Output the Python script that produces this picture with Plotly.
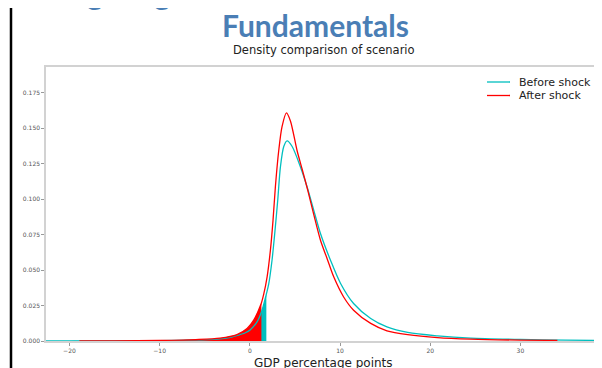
import numpy as np
import plotly.graph_objects as go

# ---- data ----
before_x = [-25, -20, -15, -10, -6, -4, -3.3, -2.0, -1.4, -0.5, 0.06, 0.8, 1.35, 1.83, 2.09,
            2.46, 2.76, 3.09, 3.39, 3.76, 4.13, 4.69, 5.61, 6.35, 7.09, 7.83, 8.94, 10.06,
            11.5, 13.4, 15.2, 17.5, 20.8, 24.5, 30, 35, 40]
before_y = [0.00003, 0.00006, 0.00012, 0.0003, 0.0008, 0.0012, 0.0015, 0.0028, 0.0039, 0.0058,
            0.008, 0.0135, 0.0217, 0.033, 0.040, 0.0569, 0.0757, 0.099, 0.1226, 0.137, 0.141,
            0.137, 0.1226, 0.1085, 0.092, 0.0757, 0.0569, 0.0405, 0.0264, 0.0158, 0.0099,
            0.006, 0.0036, 0.002, 0.0011, 0.0006, 0.0003]

after_x = [-18.9, -15, -10, -6, -3.3, -1.43, -0.31, 0.43, 1.24, 1.54, 1.91, 2.28, 2.57, 2.83,
           3.2, 3.57, 4.06, 4.5, 5.24, 5.8, 6.43, 7.09, 7.83, 8.57, 9.31, 10.4, 11.5, 13.4,
           15.2, 17.5, 20.8, 24.5, 30, 34.1]
after_y = [0.00005, 0.0001, 0.0004, 0.001, 0.002, 0.0045, 0.0088, 0.0147, 0.026, 0.033, 0.045,
           0.064, 0.085, 0.1085, 0.134, 0.151, 0.1607, 0.155, 0.134, 0.121, 0.106, 0.089,
           0.071, 0.058, 0.045, 0.031, 0.0217, 0.0124, 0.0072, 0.0045, 0.0024, 0.0013,
           0.0006, 0.0004]

before_cut = 1.83   # shaded tail limit, before shock
after_cut = 1.28    # shaded tail limit, after shock

x_ticks = [-20, -10, 0, 10, 20, 30]
y_ticks = [0.0, 0.025, 0.05, 0.075, 0.1, 0.125, 0.15, 0.175]
series_names = ["Before shock", "After shock"]

CYAN = "#00BFBF"
RED = "#FF0000"


def tail(xs, ys, cut):
    xs = np.asarray(xs, float)
    ys = np.asarray(ys, float)
    m = xs < cut
    return list(xs[m]) + [cut], list(ys[m]) + [float(np.interp(cut, xs, ys))]


fig = go.Figure()

bx, by = tail(before_x, before_y, before_cut)
ax_, ay_ = tail(after_x, after_y, after_cut)

fig.add_trace(go.Scatter(x=bx, y=by, mode="lines", fill="tozeroy", fillcolor=CYAN,
                         line=dict(width=0, color=CYAN, shape="spline", smoothing=0.8),
                         showlegend=False, hoverinfo="skip"))
fig.add_trace(go.Scatter(x=ax_, y=ay_, mode="lines", fill="tozeroy", fillcolor=RED,
                         line=dict(width=0, color=RED, shape="spline", smoothing=0.8),
                         showlegend=False, hoverinfo="skip"))
fig.add_trace(go.Scatter(x=before_x, y=before_y, mode="lines", name=series_names[0],
                         line=dict(color=CYAN, width=1.3, shape="spline", smoothing=0.8),
                         showlegend=False))
fig.add_trace(go.Scatter(x=after_x, y=after_y, mode="lines", name=series_names[1],
                         line=dict(color=RED, width=1.3, shape="spline", smoothing=0.8),
                         showlegend=False))

# page layout (page pixels); the html body adds an 8px offset, compensated here
OFF = 8
W, H = 602 - OFF, 368 - OFF
PL, PR, PT, PB = 46, 598, 67, 341          # plot area in page pixels
L, T = PL - OFF, PT - OFF
R, B = W - (PR - OFF), H - (PB - OFF)
pw, ph = W - L - R, H - T - B


def px(xp):
    return (xp - PL) / pw


def py(yp):
    return (PB - yp) / ph


fig.update_layout(
    width=W, height=H,
    margin=dict(l=L, r=R, t=T, b=B, autoexpand=False),
    paper_bgcolor="white", plot_bgcolor="white",
    font=dict(family="DejaVu Sans", color="#222"),
    showlegend=False,
    xaxis=dict(range=[-22.6, 38.6], tickvals=x_ticks,
               ticktext=[str(v).replace("-", "\u2212") for v in x_ticks],
               showgrid=False, zeroline=False, showline=True, mirror=True,
               linecolor="#d2d2d2", linewidth=1.5, ticks="outside", ticklen=3,
               tickcolor="#999", tickfont=dict(size=6, color="#555")),
    yaxis=dict(range=[0, 0.193], tickvals=y_ticks, ticktext=[f"{v:.3f}" for v in y_ticks],
               showgrid=False, zeroline=False, showline=True, mirror=True,
               linecolor="#d2d2d2", linewidth=1.5, ticks="outside", ticklen=3,
               tickcolor="#999", tickfont=dict(size=6, color="#555")),
)

# legend (drawn as in the reference: short line keys, tight spacing)
for i, (name, col) in enumerate(zip(series_names, [CYAN, RED])):
    yy = 82 + 13.5 * i
    fig.add_shape(type="line", xref="paper", yref="paper", x0=px(487), x1=px(510),
                  y0=py(yy), y1=py(yy), line=dict(color=col, width=1.3))
    fig.add_annotation(text=name, xref="paper", yref="paper", x=px(517), y=py(yy),
                       xanchor="left", yanchor="middle", showarrow=False,
                       font=dict(family="DejaVu Sans", size=11, color="#222"))

# slide border on the left
fig.add_shape(type="line", xref="paper", yref="paper", x0=px(11), x1=px(11),
              y0=py(0), y1=py(368), line=dict(color="black", width=2.5))

# slide heading (top line mostly cut off by the crop)
fig.add_annotation(text="<b>Mitigating Risks to Economic</b>", xref="paper", yref="paper",
                   x=px(30), y=py(-7), xanchor="left", yanchor="middle", showarrow=False,
                   font=dict(family="Lato", size=30, color="#4A7EB5"))
fig.add_annotation(text="<b>Fundamentals</b>", xref="paper", yref="paper",
                   x=px(315), y=py(25), xanchor="center", yanchor="middle", showarrow=False,
                   font=dict(family="Lato", size=30, color="#4A7EB5"))
fig.add_annotation(text="Density comparison of scenario", xref="paper", yref="paper",
                   x=px(324), y=py(50), xanchor="center", yanchor="middle", showarrow=False,
                   font=dict(family="DejaVu Sans", size=11.5, color="#222"))
fig.add_annotation(text="GDP percentage points", xref="paper", yref="paper",
                   x=px(323), y=py(362.5), xanchor="center", yanchor="middle", showarrow=False,
                   font=dict(family="DejaVu Sans", size=12, color="#222"))

fig.write_html("out.html")
